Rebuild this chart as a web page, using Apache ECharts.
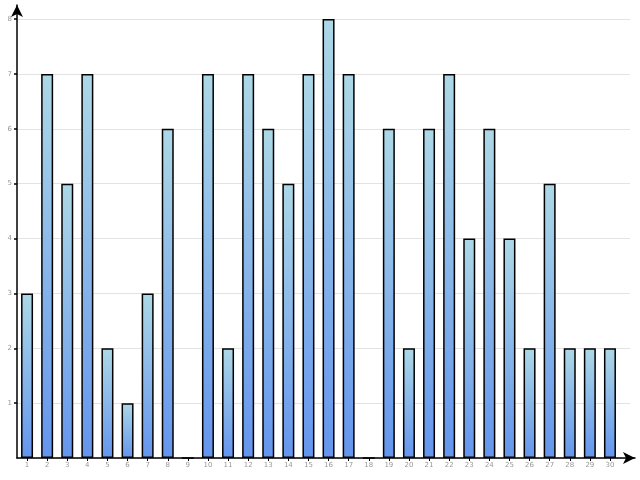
<!DOCTYPE html>
<html><head><meta charset="utf-8">
<script src="https://cdn.jsdelivr.net/npm/echarts@6/dist/echarts.min.js"></script>
<style>html,body{margin:0;padding:0;background:#fff}#c{width:640px;height:480px}</style>
</head><body><div id="c"></div>
<script>
const categories = ['1','2','3','4','5','6','7','8','9','10','11','12','13','14','15','16','17','18','19','20','21','22','23','24','25','26','27','28','29','30'];
const values = [3,7,5,7,2,1,3,6,0,7,2,7,6,5,7,8,7,0,6,2,6,7,4,6,4,2,5,2,2,2];
const yTicks = [1,2,3,4,5,6,7,8];
const yMin = 0, yMax = 8, yStep = 1;

const chart = echarts.init(document.getElementById('c'), null, {renderer:'canvas'});
const lab = {color:'#999', fontSize:7, fontFamily:'DejaVu Sans'};
chart.setOption({
  animation:false,
  grid:[
    {left:17, right:20, top:19, bottom:22},
    {left:17, right:10, top:19, bottom:22},
    {left:17, right:5, top:5, bottom:22}
  ],
  xAxis:[
    {type:'category', gridIndex:0, data:categories,
     axisLine:{show:false},
     axisTick:{show:true, alignWithLabel:true, length:3, lineStyle:{color:'#000'}},
     axisLabel:Object.assign({margin:4}, lab)},
    {type:'value', gridIndex:1, show:false},
    {type:'value', gridIndex:2, min:0, max:1,
     axisLine:{show:true, lineStyle:{color:'#000', width:1.5}, symbol:['none','arrow'], symbolSize:[9,12]},
     axisTick:{show:false}, axisLabel:{show:false}, splitLine:{show:false}}
  ],
  yAxis:[
    {type:'value', gridIndex:0, min:yMin, max:yMax, interval:yStep,
     axisLine:{show:false},
     axisTick:{show:true, length:3, customValues:yTicks, lineStyle:{color:'#000', width:1.5}},
     axisLabel:Object.assign({margin:5, customValues:yTicks}, lab),
     splitLine:{show:false}},
    {type:'value', gridIndex:1, min:yMin, max:yMax, interval:yStep,
     axisLine:{show:false}, axisTick:{show:false}, axisLabel:{show:false},
     splitLine:{show:true, lineStyle:{color:'#e3e3e3', width:1}}},
    {type:'value', gridIndex:2, min:0, max:1,
     axisLine:{show:true, lineStyle:{color:'#000', width:1.5}, symbol:['none','arrow'], symbolSize:[9,12]},
     axisTick:{show:false}, axisLabel:{show:false}, splitLine:{show:false}}
  ],
  series:[{
    type:'bar', xAxisIndex:0, yAxisIndex:0, data:values, barWidth:12,
    itemStyle:{
      borderColor:'#000', borderWidth:1.5,
      color:new echarts.graphic.LinearGradient(0,0,0,1,[{offset:0,color:'#ADD8E6'},{offset:1,color:'#6495ED'}])
    }
  }]
});
</script></body></html>
